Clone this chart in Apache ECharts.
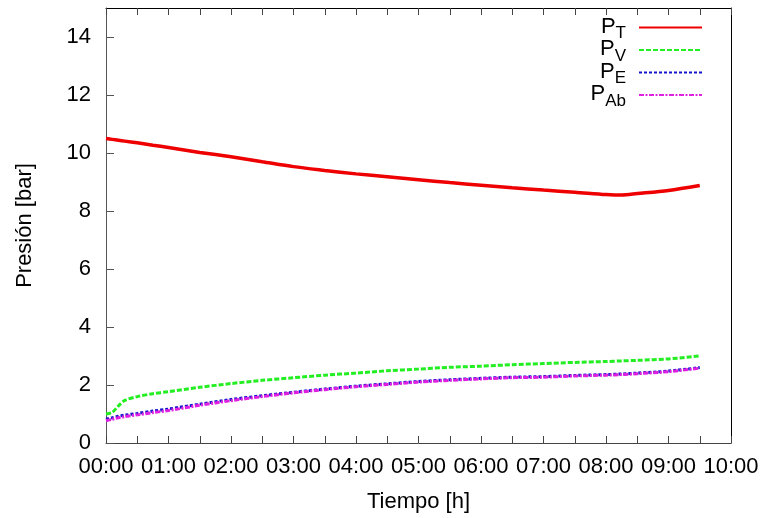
<!DOCTYPE html>
<html>
<head>
<meta charset="utf-8">
<script src="https://cdn.jsdelivr.net/npm/echarts@6/dist/echarts.min.js"></script>
<style>html,body{margin:0;padding:0;background:#fff}#c{width:762px;height:518px}</style>
</head>
<body>
<div id="c"></div>
<script>
// Tiempo en horas
var horas = [0, 0.1, 0.2, 0.3, 0.5, 0.75, 1, 1.5, 2, 2.5, 3, 3.5, 4, 4.5, 5, 5.5, 6, 6.5, 7, 7.5, 8, 8.25, 8.5, 9, 9.5];
var PT  = [10.50, 10.47, 10.44, 10.41, 10.35, 10.27, 10.19, 10.02, 9.87, 9.70, 9.53, 9.40, 9.28, 9.18, 9.08, 8.98, 8.89, 8.80, 8.72, 8.65, 8.57, 8.55, 8.60, 8.71, 8.88];
var PV  = [1.00, 1.06, 1.28, 1.47, 1.60, 1.70, 1.77, 1.92, 2.05, 2.16, 2.25, 2.34, 2.41, 2.49, 2.55, 2.61, 2.65, 2.70, 2.74, 2.78, 2.81, 2.83, 2.85, 2.90, 3.00];
var PE  = [0.82, 0.87, 0.92, 0.96, 1.02, 1.10, 1.17, 1.34, 1.50, 1.63, 1.75, 1.86, 1.96, 2.04, 2.12, 2.18, 2.23, 2.27, 2.29, 2.33, 2.36, 2.38, 2.41, 2.48, 2.60];
var PAb = [0.77, 0.82, 0.87, 0.91, 0.97, 1.05, 1.12, 1.30, 1.46, 1.60, 1.73, 1.84, 1.94, 2.02, 2.10, 2.16, 2.21, 2.25, 2.27, 2.31, 2.34, 2.36, 2.39, 2.46, 2.58];
var seriesNames = ['P_T', 'P_V', 'P_E', 'P_Ab'];
var yTicks = [0, 2, 4, 6, 8, 10, 12, 14];

function pairs(vals) { return horas.map(function (h, i) { return [h, vals[i]]; }); }
function hhmm(v) { var h = Math.round(v); return (h < 10 ? '0' : '') + h + ':00'; }

var FONT = 'Liberation Sans, Arial, Helvetica, sans-serif';
var chart = echarts.init(document.getElementById('c'), null, {renderer: 'canvas'});
chart.setOption({
  animation: false,
  backgroundColor: '#fff',
  textStyle: {fontFamily: FONT},
  grid: {left: 106, right: 31, top: 8, bottom: 75, containLabel: false},
  legend: {
    orient: 'vertical',
    align: 'right',
    right: 59,
    top: 13,
    padding: 0,
    itemGap: -6.5,
    itemWidth: 63,
    itemHeight: 14,
    data: seriesNames,
    itemStyle: {opacity: 0, color: 'rgba(0,0,0,0)', borderWidth: 0},
    formatter: function (n) {
      var p = n.split('_');
      return '{p|' + p[0] + '}{s|' + p[1] + '}';
    },
    textStyle: {
      fontFamily: FONT,
      color: '#000',
      rich: {
        p: {fontSize: 22, lineHeight: 24, verticalAlign: 'top', fontFamily: FONT, color: '#000'},
        s: {fontSize: 17, lineHeight: 18, padding: [12, 8, 0, 0], fontFamily: FONT, color: '#000'}
      }
    }
  },
  xAxis: [{
    type: 'value', position: 'bottom', min: 0, max: 10, interval: 1,
    name: 'Tiempo [h]', nameLocation: 'middle', nameGap: 48,
    nameTextStyle: {fontSize: 22, color: '#000', fontFamily: FONT},
    axisLine: {onZero: false, lineStyle: {color: '#444', width: 1}},
    axisTick: {inside: true, length: 7, lineStyle: {color: '#444'}},
    minorTick: {show: true, splitNumber: 2, length: 7, lineStyle: {color: '#444'}},
    axisLabel: {formatter: hhmm, fontSize: 22, color: '#000', margin: 13, fontFamily: FONT},
    splitLine: {show: false}
  }, {
    type: 'value', position: 'top', min: 0, max: 10, interval: 1,
    axisLine: {show: true, onZero: false, lineStyle: {color: '#000', width: 1}},
    axisTick: {show: true, inside: true, length: 7, lineStyle: {color: '#444'}},
    minorTick: {show: true, splitNumber: 2, length: 7, lineStyle: {color: '#444'}},
    axisLabel: {show: false},
    splitLine: {show: false}
  }],
  yAxis: [{
    type: 'value', position: 'left', min: 0, max: 15, interval: 2,
    name: 'Presión [bar]', nameLocation: 'middle', nameGap: 70, nameRotate: 90,
    nameTextStyle: {fontSize: 22, color: '#000', fontFamily: FONT},
    axisLine: {show: true, onZero: false, lineStyle: {color: '#555', width: 1}},
    axisTick: {show: true, inside: true, length: 8, lineStyle: {color: '#555'}},
    axisLabel: {fontSize: 22, color: '#000', margin: 15, fontFamily: FONT, showMaxLabel: false,
      formatter: function (v) { return yTicks.indexOf(v) >= 0 ? String(v) : ''; }},
    splitLine: {show: false}
  }, {
    type: 'value', position: 'right', min: 0, max: 15, interval: 2,
    axisLine: {show: true, onZero: false, lineStyle: {color: '#000', width: 1}},
    axisTick: {show: false}, axisLabel: {show: false}, splitLine: {show: false}
  }],
  series: [
    {name: 'P_T', type: 'line', data: pairs(PT), symbol: 'none', smooth: 0.3,
     lineStyle: {color: '#ee0000', width: 3.5}, itemStyle: {color: '#ee0000'}},
    {name: 'P_V', type: 'line', data: pairs(PV), symbol: 'none', smooth: 0.3,
     lineStyle: {color: '#22ee22', width: 3, type: [5, 2]}, itemStyle: {color: '#22ee22'}},
    {name: 'P_E', type: 'line', data: pairs(PE), symbol: 'none', smooth: 0.3,
     lineStyle: {color: '#1414cc', width: 3, type: [3, 2]}, itemStyle: {color: '#1414cc'}},
    {name: 'P_Ab', type: 'line', data: pairs(PAb), symbol: 'none', smooth: 0.3,
     lineStyle: {color: '#e020e0', width: 3, type: [5, 1.5, 2, 1.5]}, itemStyle: {color: '#e020e0'}}
  ]
});
</script>
</body>
</html>
